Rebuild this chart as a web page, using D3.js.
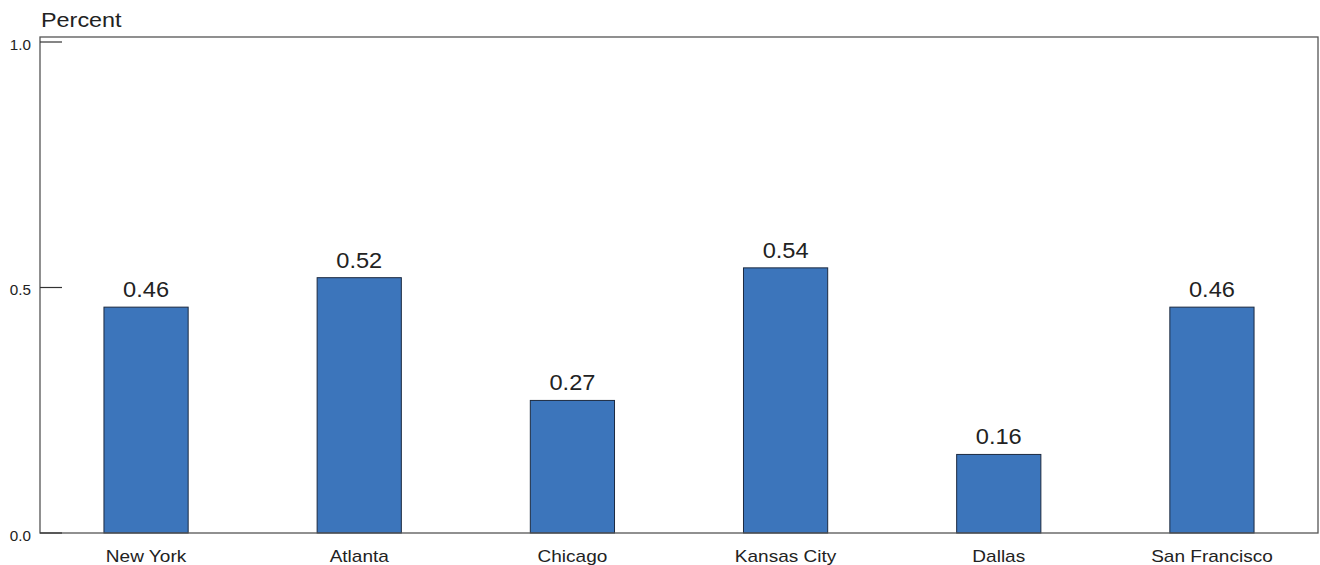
<!DOCTYPE html>
<html><head><meta charset="utf-8">
<script src="https://cdn.jsdelivr.net/npm/d3@7"></script>
<style>body{margin:0;background:#fff;} text{font-family:"Liberation Sans",Arial,sans-serif;}</style>
</head><body>
<svg id="chart" width="1320" height="565"></svg>
<script>
const categories = ["New York","Atlanta","Chicago","Kansas City","Dallas","San Francisco"];
const values = [0.46,0.52,0.27,0.54,0.16,0.46];
const valueLabels = ["0.46","0.52","0.27","0.54","0.16","0.46"];
const yTicks = [0,0.5,1.0];

const svg = d3.select("#chart");
const L=40, R=1318, T=37, B=533;
const x = d3.scaleBand().domain(categories).range([L,R]).paddingInner(0.605).paddingOuter(0.3);
const y = d3.scaleLinear().domain([0,1]).range([B,42]);

svg.append("g").selectAll("rect").data(values).join("rect")
  .attr("x",(d,i)=>x(categories[i])).attr("width",x.bandwidth())
  .attr("y",d=>y(d)).attr("height",d=>B-y(d))
  .attr("fill","#3c75bb").attr("stroke","#1c2a40").attr("stroke-width",1);

svg.append("g").selectAll("text").data(values).join("text")
  .attr("transform",(d,i)=>`translate(${x(categories[i])+x.bandwidth()/2},${y(d)-10}) scale(1.05,1)`)
  .attr("text-anchor","middle").attr("font-size",22.5).attr("fill","#222")
  .text((d,i)=>valueLabels[i]);

// frame
svg.append("rect").attr("x",L).attr("y",T).attr("width",R-L).attr("height",B-T)
  .attr("fill","none").attr("stroke","#555").attr("stroke-width",1.3);

// y ticks
const yAxis = svg.append("g");
yTicks.forEach(t=>{
  yAxis.append("line").attr("x1",L).attr("x2",L+22).attr("y1",y(t)).attr("y2",y(t)).attr("stroke","#333").attr("stroke-width",1.2);
  yAxis.append("text").attr("transform",`translate(${L-9},${y(t)+7.5}) scale(1.05,1)`).attr("text-anchor","end").attr("font-size",14.5).attr("fill","#222").text(d3.format(".1f")(t));
});

// x labels
svg.append("g").selectAll("text").data(categories).join("text")
  .attr("transform",d=>`translate(${x(d)+x.bandwidth()/2},561.5) scale(1.12,1)`)
  .attr("text-anchor","middle").attr("font-size",17).attr("fill","#222").text(d=>d);

svg.append("text").attr("transform","translate(41,26.5) scale(1.17,1)").attr("font-size",20).attr("fill","#222").text("Percent");
</script>
</body></html>
